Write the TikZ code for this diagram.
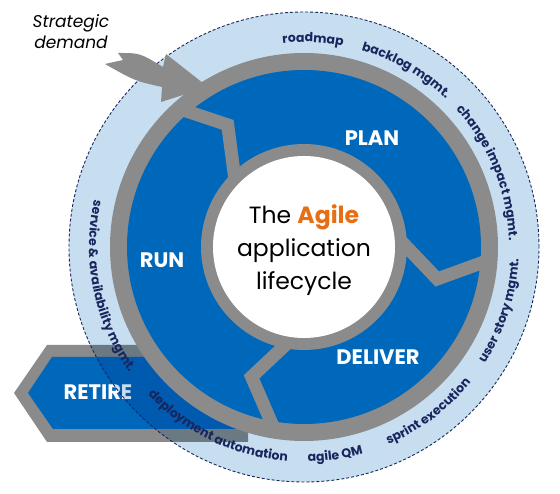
\documentclass[tikz,border=0pt]{standalone}
\usepackage{fontspec}
\setmainfont{Poppins}
\usetikzlibrary{decorations.text}
\definecolor{cycleblue}{RGB}{0,104,186}
\definecolor{ringblue}{RGB}{198,222,240}
\definecolor{bandgray}{RGB}{139,139,139}
\definecolor{navy}{RGB}{24,38,94}
\definecolor{agileorange}{RGB}{230,110,20}
\newcommand\ringfont{\bfseries\fontsize{12.5}{14}\selectfont}

\begin{document}
\begin{tikzpicture}[x=1pt,y=1pt,
  phase/.style={text=white,font=\bfseries\fontsize{21}{21}\selectfont},
  divider/.style={bandgray,line width=13pt,line join=miter},
  ringlabel/.style={postaction={decorate,decoration={text along path,text align=center,text color=navy,text={|\ringfont|#1}}}}]
\useasboundingbox (0,0) rectangle (560,494);
\fill[bandgray] (14,101) -- (47,149) -- (248,149) -- (248,52) -- (47,52) -- cycle;
\fill[cycleblue] (28,101) -- (52,137) -- (248,137) -- (248,65) -- (53,65) -- cycle;
\node[phase] (retire) at (98,102) {RETIRE};
\begin{scope}[shift={(304,247)}]
\begin{scope}[blend mode=multiply]
\fill[ringblue] (0,0) circle (235);
\end{scope}
\draw[navy,line width=0.9pt,dash pattern=on 3pt off 2pt] (0,0) circle (235);
\fill[bandgray] (0,0) circle (194);
\fill[cycleblue] (0,0) circle (177);
\draw[divider] (135:98) -- (122:144) -- (132:186);
\draw[divider] (3:98) -- (-13.5:137) -- (-4:186);
\draw[divider] (260:98) -- (248:140) -- (261:186);
\fill[bandgray] (0,0) circle (103);
\fill[white] (0,0) circle (91);
\path[ringlabel=roadmap] (107:205) arc (107:68:205);
\path[ringlabel=backlog mgmt.] (90:205) arc (90:30:205);
\path[ringlabel=change impact mgmt.] (55:205) arc (55:-11:205);
\path[ringlabel=user story mgmt.] (318:215) arc (318:366:215);
\path[ringlabel=sprint execution] (285:215) arc (285:329:215);
\path[ringlabel=agile QM] (260:215) arc (260:297:215);
\path[ringlabel=deployment automation] (213:215) arc (213:276:215);
\path[ringlabel=service {\&} availability mgmt.] (158:215) arc (158:225:215);
\end{scope}
\fill[bandgray] (118,441) .. controls (140,441) .. (163,427) -- (166,440) -- (208,407) -- (161,392) -- (162,407) .. controls (135,413) .. (105,430) -- (123,434) -- cycle;
\node[phase] (plan) at (372,356) {PLAN};
\node[phase] (run) at (162,234) {RUN};
\node[phase] (deliver) at (378,137) {DELIVER};
\node[align=center,font=\fontsize{23.5}{33}\selectfont] (title) at (304,244) {The {\bfseries\color{agileorange}Agile}\\application\\lifecycle};
\node[align=center,font=\itshape\fontsize{17}{21}\selectfont] (demand) at (71,462) {Strategic\\demand};
\end{tikzpicture}
\end{document}
